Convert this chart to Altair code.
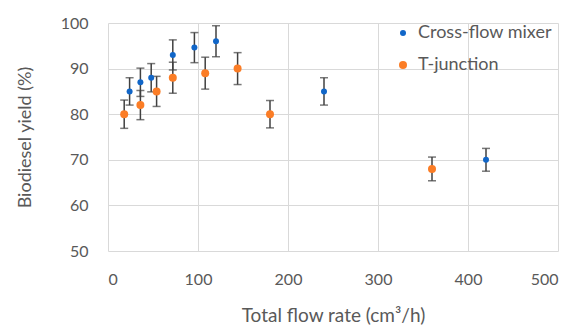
import altair as alt
import pandas as pd

series_names = ["Cross-flow mixer", "T-junction"]

cross_flow = [24, 36, 48, 72, 96, 120, 240, 420]
cross_yield = [85, 87, 88, 93, 94.6, 96, 85, 70]
cross_err = [3.0, 3.1, 3.1, 3.3, 3.3, 3.4, 3.0, 2.5]

tj_flow = [18, 36, 54, 72, 108, 144, 180, 360]
tj_yield = [80, 82, 85, 88, 89, 90, 80, 68]
tj_err = [3.1, 3.2, 3.3, 3.4, 3.5, 3.5, 3.0, 2.6]

rows = []
for f, y, e in zip(cross_flow, cross_yield, cross_err):
    rows.append({"flow": f, "yield": y, "lo": y - e, "hi": y + e, "series": series_names[0]})
for f, y, e in zip(tj_flow, tj_yield, tj_err):
    rows.append({"flow": f, "yield": y, "lo": y - e, "hi": y + e, "series": series_names[1]})
df = pd.DataFrame(rows)

FONT = "Lato"
x_scale = alt.Scale(domain=[0, 500], nice=False)
y_scale = alt.Scale(domain=[50, 100], nice=False, zero=False)

x_axis = alt.Axis(values=[0, 100, 200, 300, 400, 500], title="Total flow rate (cm³/h)",
                  labelPadding=20, titlePadding=19, titleFontSize=19)
y_axis = alt.Axis(values=[50, 60, 70, 80, 90, 100], title="Biodiesel yield (%)",
                  labelPadding=20, titlePadding=26, titleFontSize=18)

base = alt.Chart(df)

err = base.mark_errorbar(ticks=alt.MarkConfig(size=8, strokeWidth=1.5, color="#404040"),
                         thickness=1.5, color="#404040").encode(
    x=alt.X("flow:Q", scale=x_scale, axis=x_axis),
    y=alt.Y("lo:Q", scale=y_scale, axis=y_axis),
    y2="hi:Q",
)

leg = dict(title=None, orient="none", legendX=286, legendY=1,
           labelFontSize=18, labelFont=FONT, labelColor="#595959",
           symbolType="circle", rowPadding=14, labelOffset=6)

pts = base.mark_circle(opacity=1).encode(
    x=alt.X("flow:Q", scale=x_scale, axis=x_axis),
    y=alt.Y("yield:Q", scale=y_scale, axis=y_axis),
    color=alt.Color("series:N",
                    scale=alt.Scale(domain=series_names, range=["#1166c8", "#fb7d26"]),
                    legend=alt.Legend(**leg)),
    size=alt.Size("series:N",
                  scale=alt.Scale(domain=series_names, range=[36, 64]),
                  legend=alt.Legend(**leg)),
)

chart = alt.layer(err, pts).properties(
    width=450, height=228,
    background="white",
    autosize=alt.AutoSizeParams(type="none"),
    padding={"left": 108, "top": 23, "right": 19, "bottom": 75},
).configure_view(stroke=None).configure_axis(
    grid=True, gridColor="#d9d9d9", gridWidth=1,
    domain=False, ticks=False,
    labelFont=FONT, labelFontSize=16, labelColor="#595959",
    titleFont=FONT, titleColor="#595959", titleFontWeight="normal",
)

chart.save("out.html", embed_options={"renderer": "svg", "actions": False})
